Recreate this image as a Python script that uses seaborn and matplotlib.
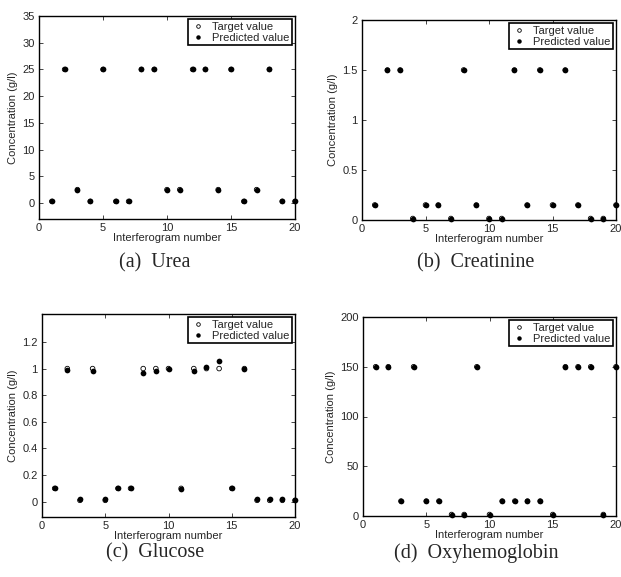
import numpy as np
import pandas as pd
import matplotlib
matplotlib.use("Agg")
import matplotlib.pyplot as plt
from matplotlib.lines import Line2D
import seaborn as sns

sns.set_style("ticks")
plt.rcParams['font.family'] = ['Liberation Sans', 'DejaVu Sans']

x = list(range(1, 21))

urea_target = [0.3, 25, 2.5, 0.3, 25, 0.3, 0.3, 25, 25, 2.5, 2.5, 25, 25, 2.5, 25, 0.3, 2.5, 25, 0.3, 0.3]
urea_pred = [0.3, 25, 2.5, 0.3, 25, 0.3, 0.3, 25, 25, 2.5, 2.5, 25, 25, 2.5, 25, 0.3, 2.5, 25, 0.3, 0.3]

creat_target = [0.15, 1.5, 1.5, 0.015, 0.15, 0.15, 0.015, 1.5, 0.15, 0.015, 0.015, 1.5, 0.15, 1.5, 0.15, 1.5, 0.15, 0.015, 0.015, 0.15]
creat_pred = [0.15, 1.5, 1.5, 0.015, 0.15, 0.15, 0.015, 1.5, 0.15, 0.015, 0.015, 1.5, 0.15, 1.5, 0.15, 1.5, 0.15, 0.015, 0.015, 0.15]

gluc_target = [0.1, 1, 0.01, 1, 0.01, 0.1, 0.1, 1, 1, 1, 0.1, 1, 1, 1, 0.1, 1, 0.01, 0.01, 0.01, 0.01]
gluc_pred = [0.1, 0.99, 0.02, 0.985, 0.02, 0.1, 0.1, 0.965, 0.985, 1.0, 0.095, 0.985, 1.015, 1.06, 0.1, 1.0, 0.02, 0.02, 0.02, 0.015]

oxy_target = [150, 150, 15, 150, 15, 15, 1.5, 1.5, 150, 1.5, 15, 15, 15, 15, 1.5, 150, 150, 150, 1.5, 150]
oxy_pred = [150, 150, 15, 150, 15, 15, 1.5, 1.5, 150, 1.5, 15, 15, 15, 15, 1.5, 150, 150, 150, 1.5, 150]

captions = ["(a)  Urea", "(b)  Creatinine", "(c)  Glucose", "(d)  Oxyhemoglobin"]
xticks = [0, 5, 10, 15, 20]
yticks_list = [[0, 5, 10, 15, 20, 25, 30, 35],
               [0, 0.5, 1, 1.5, 2],
               [0, 0.2, 0.4, 0.6, 0.8, 1, 1.2],
               [0, 50, 100, 150, 200]]
ylims = [(-3, 35), (0, 2), (-0.115, 1.41), (0, 200)]

W, H = 621, 577
fig = plt.figure(figsize=(W / 100, H / 100), dpi=100)

# axes boxes in pixel coords: left, right, top, bottom
boxes = [(39, 295, 16, 219), (362, 616, 20, 220), (42, 295, 314, 517), (363, 616, 317, 516)]
caption_pos = [(155, 263), (476, 263), (155, 553), (476, 553)]

targets = [urea_target, creat_target, gluc_target, oxy_target]
preds = [urea_pred, creat_pred, gluc_pred, oxy_pred]

def fmt(v):
    return ("%g" % v)

FS = 8
for i in range(4):
    l, r, t, b = boxes[i]
    ax = fig.add_axes([l / W, 1 - b / H, (r - l) / W, (b - t) / H])
    df = pd.DataFrame({"x": x, "target": targets[i], "pred": preds[i]})
    sns.scatterplot(data=df, x="x", y="target", ax=ax, marker="o", s=11,
                    facecolor="none", edgecolor="black", linewidth=0.6, zorder=3, clip_on=False)
    sns.scatterplot(data=df, x="x", y="pred", ax=ax, marker="o", s=17,
                    color="black", edgecolor="black", linewidth=0, zorder=4, clip_on=False)
    ax.set_xlim(0, 20)
    ax.set_ylim(*ylims[i])
    ax.set_xticks(xticks)
    ax.set_yticks(yticks_list[i])
    ax.set_xticklabels([fmt(v) for v in xticks])
    ax.set_yticklabels([fmt(v) for v in yticks_list[i]])
    ax.tick_params(direction="in", length=3, width=0.6, labelsize=FS, top=True, right=True, pad=3)
    for sp in ax.spines.values():
        sp.set_linewidth(1.0)
        sp.set_visible(True)
        sp.set_color("black")
    ax.set_xlabel("Interferogram number", fontsize=FS, labelpad=0)
    ax.set_ylabel("Concentration (g/l)", fontsize=FS, labelpad=3)
    handles = [Line2D([], [], marker="o", linestyle="none", markerfacecolor="none",
                      markeredgecolor="black", markersize=2.6, markeredgewidth=0.6),
               Line2D([], [], marker="o", linestyle="none", markerfacecolor="black",
                      markeredgecolor="black", markersize=2.2)]
    leg = ax.legend(handles, ["Target value", "Predicted value"], loc="upper right",
                    fontsize=FS, frameon=True, fancybox=False, framealpha=1,
                    edgecolor="black", borderpad=0.25, labelspacing=0.1,
                    handlelength=1.3, handletextpad=0.6, borderaxespad=0.25)
    leg.get_frame().set_linewidth(1.2)
    cx, cy = caption_pos[i]
    fig.text(cx / W, 1 - cy / H, captions[i], ha="center", va="center",
             fontsize=14.5, family=["Liberation Serif", "DejaVu Serif"])

fig.savefig("out.png", dpi=100)
